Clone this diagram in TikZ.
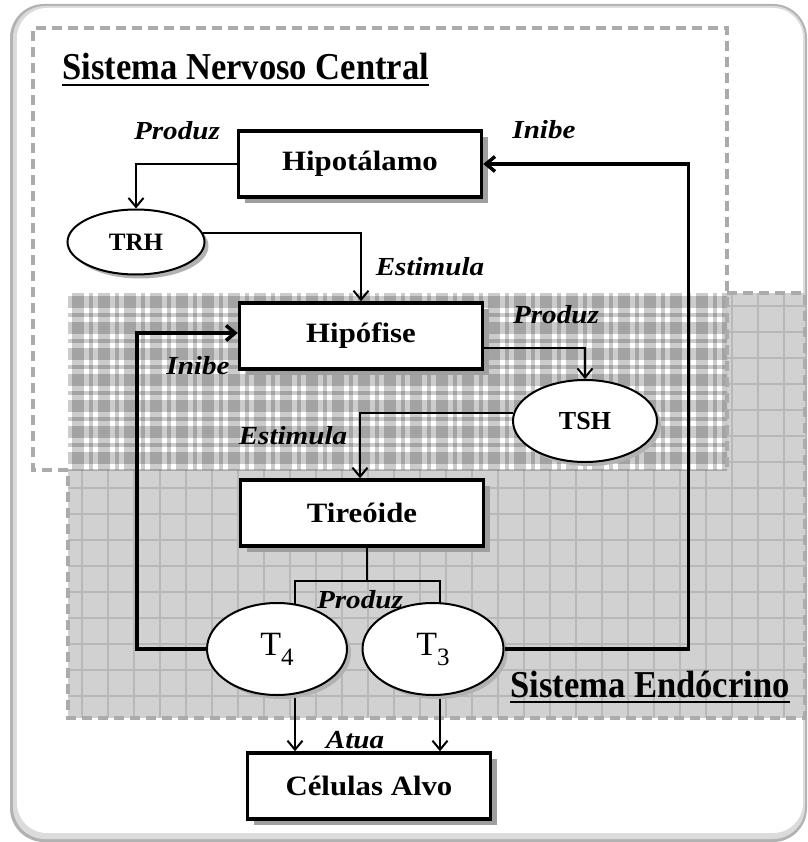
\documentclass[tikz,border=0pt]{standalone}
\usepackage{fontspec}
\setmainfont{Liberation Serif}
\newfontfamily\boxfont[FakeStretch=1.1]{Liberation Serif}
\newfontfamily\edgefont[FakeStretch=1.12]{Liberation Serif}
\newfontfamily\headfont[FakeStretch=0.91]{Liberation Serif}
\usetikzlibrary{arrows.meta,shapes.geometric,shadows,calc}
\pgfdeclarelayer{fills}
\pgfdeclarelayer{wires}
\pgfsetlayers{fills,wires,main}

\tikzset{
  organ/.style={draw, line width=3.5pt, fill=white, minimum width=243pt,
    minimum height=66pt, inner sep=0pt,
    font=\boxfont\bfseries\fontsize{28}{30}\selectfont,
    drop shadow={shadow xshift=6pt, shadow yshift=-6pt, fill=gray!75, opacity=1}},
  hormone/.style={ellipse, draw, line width=2pt, fill=white, inner sep=0pt,
    drop shadow={shadow xshift=4pt, shadow yshift=-4pt, fill=gray!60, opacity=1}},
  act/.style={line width=2pt, -{Straight Barb[length=9pt,width=15pt]}},
  inhibit/.style={line width=3.5pt, -{Straight Barb[length=9pt,width=15pt]}},
  link/.style={line width=2pt},
  verb/.style={inner sep=0pt, font=\edgefont\bfseries\itshape\fontsize{26}{28}\selectfont},
  header/.style={inner sep=0pt, anchor=base west, font=\headfont\bfseries\fontsize{38}{42}\selectfont},
  zone/.style={draw=black!33, line width=4pt, dash pattern=on 10pt off 6pt}
}

\begin{document}
\begin{tikzpicture}[x=1pt, y=-1pt]
\useasboundingbox (0,0) rectangle (807,842);

\begin{pgfonlayer}{fills}
  % rounded frame with a soft grey rim
  \fill[black!30, rounded corners=34pt] (10,4) rectangle (807,842);
  \fill[black!14, rounded corners=32pt] (13,6) rectangle (805,839);
  \fill[white, rounded corners=30pt] (17,8) rectangle (803,833);

  % endocrine system: grey grid
  \fill[black!18] (68,293) rectangle (805,718);
  \foreach \x in {82,108,...,805}
    \draw[black!28, line width=1.5pt] (\x,293) -- (\x,718);
  \foreach \y in {306,332,...,718}
    \draw[black!28, line width=1.5pt] (68,\y) -- (805,\y);
  % overlap of both systems: plaid
  \fill[white] (68,293) rectangle (727,470);
  \begin{scope}
    \clip (68,293) rectangle (727,470);
    \foreach \x in {72,98,...,727} {
      \fill[black, opacity=0.2] (\x,293) rectangle ++(12,177);
      \fill[black, opacity=0.2] (\x+17,293) rectangle ++(4,177);
    }
    \foreach \y in {296,322,...,470} {
      \fill[black, opacity=0.2] (68,\y) rectangle ++(659,12);
      \fill[black, opacity=0.2] (68,\y+17) rectangle ++(659,4);
    }
  \end{scope}
  % dashed outlines of the two systems
  \draw[zone] (68,470) -- (33,470) -- (33,28) -- (727,28) -- (727,470);
  \draw[zone] (727,293) -- (805,293) -- (805,718) -- (68,718) -- (68,470);
\end{pgfonlayer}

% headers
\node[header] (snc) at (62,80) {Sistema Nervoso Central};
\draw[line width=2.5pt] ([yshift=-5pt]snc.base west) -- ([yshift=-5pt]snc.base east);
\node[header] (se) at (510,697) {Sistema Endócrino};
\draw[line width=2.5pt] ([yshift=-5pt]se.base west) -- ([yshift=-5pt]se.base east);

% organs
\node[organ] (hipot) at (360,164) {Hipotálamo};
\node[organ] (hipof) at (361,336) {Hipófise};
\node[organ] (tire)  at (362,513) {Tireóide};
\node[organ] (cel)   at (369,786) {Células Alvo};

% hormones
\node[hormone, minimum width=137pt, minimum height=65pt,
      font=\bfseries\fontsize{25}{27}\selectfont] (trh) at (136,242) {TRH};
\node[hormone, minimum width=144pt, minimum height=82pt,
      font=\bfseries\fontsize{26}{28}\selectfont] (tsh) at (585,421) {TSH};
\node[hormone, minimum width=140pt, minimum height=92pt,
      font=\fontsize{34}{36}\selectfont] (t4) at (277,649)
      {T\raisebox{-10pt}{\fontsize{25}{27}\selectfont 4}};
\node[hormone, minimum width=141pt, minimum height=92pt,
      font=\fontsize{34}{36}\selectfont] (t3) at (433,649)
      {T\raisebox{-10pt}{\fontsize{25}{27}\selectfont 3}};

% stimulation chain
\draw[act] (hipot.west) -| (trh.north);
\draw[act] (trh.8) -| (hipof.north);
\draw[act] ($(hipof.east)+(0,12)$) -| (tsh.north);
\draw[act] (tsh.174) -| ($(tire.north)+(-2,0)$);

% thyroid output split towards T4 and T3
\coordinate (split) at ($(tire.south)+(5,33)$);
\coordinate (t4tap) at ($(t4.center)+(18,0)$);
\coordinate (t3tap) at ($(t3.center)+(7,0)$);
\draw[link] ($(tire.south)+(5,0)$) -- (split);
\begin{pgfonlayer}{wires}
  \draw[link] (t4tap) |- (split) -| (t3tap);
  \draw[act] (t4tap) -- (t4tap |- cel.north);
  \draw[act] (t3tap) -- (t3tap |- cel.north);
\end{pgfonlayer}

% feedback inhibition
\draw[inhibit] (t4.west) -- ++(-69,0) |- ($(hipof.west)+(0,-3)$);
\draw[inhibit] (t3.east) -- ++(184,0) |- (hipot.east);

% verbs on the connectors
\node[verb] (v1) at (177,131) {Produz};
\node[verb] (v2) at (544,130) {Inibe};
\node[verb] (v3) at (430,267) {Estimula};
\node[verb] (v4) at (556,315) {Produz};
\node[verb] (v5) at (198,366) {Inibe};
\node[verb] (v6) at (293,436) {Estimula};
\node[verb] (v7) at (360,600) {Produz};
\node[verb] (v8) at (355,740) {Atua};
\end{tikzpicture}
\end{document}
